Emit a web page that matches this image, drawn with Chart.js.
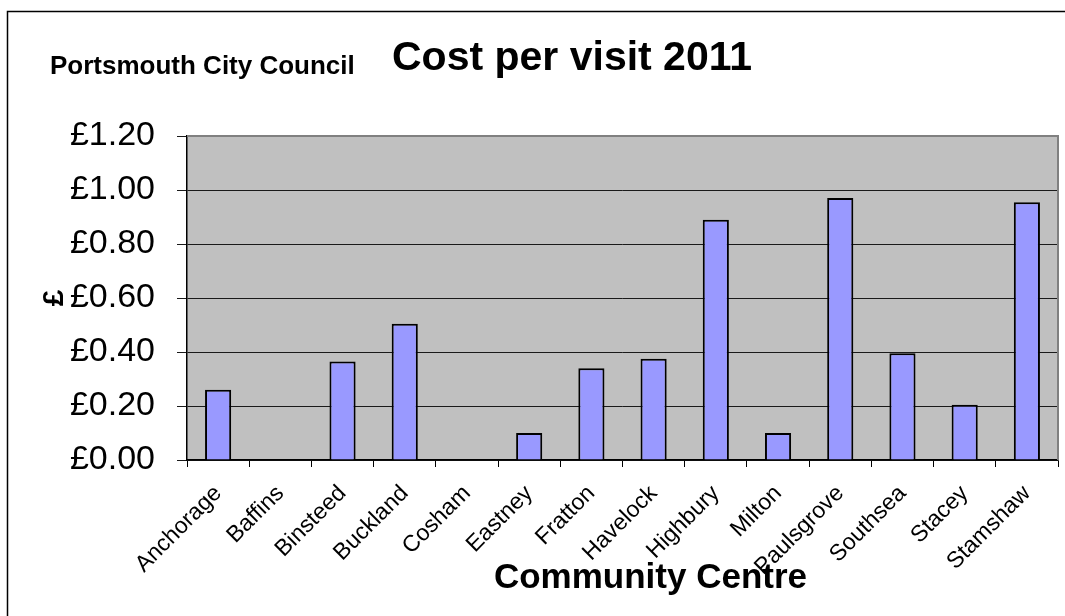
<!DOCTYPE html>
<html>
<head>
<meta charset="utf-8">
<script src="https://cdn.jsdelivr.net/npm/chart.js@4/dist/chart.umd.min.js"></script>
<style>
  html, body { margin: 0; padding: 0; background: #fff; }
  #wrap { position: relative; width: 1065px; height: 616px; }
</style>
</head>
<body>
<div id="wrap"><canvas id="chart" width="1065" height="616"></canvas></div>
<script>
// Community centres and their cost per visit (£), 2011
const centres = ['Anchorage', 'Baffins', 'Binsteed', 'Buckland', 'Cosham', 'Eastney', 'Fratton',
                 'Havelock', 'Highbury', 'Milton', 'Paulsgrove', 'Southsea', 'Stacey', 'Stamshaw'];
const costPerVisit = [0.26, null, 0.365, 0.505, null, 0.10, 0.34,
                      0.375, 0.89, 0.10, 0.97, 0.395, 0.205, 0.955];
const yTickLabels = ['£0.00', '£0.20', '£0.40', '£0.60', '£0.80', '£1.00', '£1.20'];

const FONT = '"Liberation Sans", Arial, Helvetica, sans-serif';

// Background, outer frame, grey plot area and header/axis texts
const decor = {
  id: 'decor',
  beforeDraw(chart) {
    const { ctx, chartArea: a, width, height } = chart;
    ctx.save();
    ctx.fillStyle = '#ffffff';
    ctx.fillRect(0, 0, width, height);
    ctx.strokeStyle = '#000000';
    ctx.lineWidth = 1.5;
    ctx.beginPath();
    ctx.moveTo(7.5, height);
    ctx.lineTo(7.5, 11.5);
    ctx.lineTo(width, 11.5);
    ctx.stroke();
    ctx.fillStyle = '#C0C0C0';
    ctx.fillRect(a.left, a.top, a.right - a.left, a.bottom - a.top);
    ctx.restore();
  },
  beforeDatasetsDraw(chart) {
    const { ctx, chartArea: a } = chart;
    ctx.save();
    ctx.strokeStyle = '#808080';
    ctx.lineWidth = 2;
    ctx.beginPath();
    ctx.moveTo(a.left, a.top);
    ctx.lineTo(a.right, a.top);
    ctx.lineTo(a.right, a.bottom);
    ctx.stroke();
    ctx.restore();
  },
  afterDraw(chart) {
    const { ctx } = chart;
    ctx.save();
    ctx.fillStyle = '#000000';
    ctx.textBaseline = 'alphabetic';
    ctx.textAlign = 'left';
    ctx.font = 'bold 26px ' + FONT;
    ctx.fillText('Portsmouth City Council', 50, 74);
    ctx.font = 'bold 41px ' + FONT;
    ctx.fillText('Cost per visit 2011', 392, 70);
    ctx.font = 'bold 35px ' + FONT;
    ctx.textAlign = 'center';
    const a = chart.chartArea;
    ctx.fillText('Community Centre', (a.left + a.right) / 2 + 28, 588);
    ctx.restore();
  }
};

new Chart(document.getElementById('chart'), {
  type: 'bar',
  data: {
    labels: centres,
    datasets: [{
      label: 'Cost per visit',
      data: costPerVisit,
      backgroundColor: '#9999FF',
      borderColor: '#000000',
      borderWidth: 2,
      borderSkipped: 'bottom',
      barPercentage: 0.42,
      categoryPercentage: 1
    }]
  },
  options: {
    responsive: false,
    animation: false,
    devicePixelRatio: 1,
    layout: { padding: { left: 0, top: 136, right: 7, bottom: 0 } },
    plugins: {
      legend: { display: false },
      tooltip: { enabled: false },
      title: { display: false }
    },
    scales: {
      x: {
        offset: true,
        grid: { display: true, drawOnChartArea: false, drawTicks: true, tickLength: 7, color: '#000000', offset: true },
        border: { display: true, color: '#000000', width: 1.5 },
        ticks: {
          color: '#000000',
          font: { family: FONT, size: 23 },
          minRotation: 45,
          maxRotation: 45,
          autoSkip: false,
          padding: 13
        },
        afterFit(scale) { scale.height = 156; }
      },
      y: {
        min: 0,
        max: 1.2,
        ticks: {
          stepSize: 0.2,
          color: '#000000',
          font: { family: FONT, size: 34 },
          padding: 22,
          callback: (v, i) => yTickLabels[i]
        },
        grid: { color: '#1a1a1a', lineWidth: 1, tickLength: 10, drawTicks: true },
        border: { display: true, color: '#000000', width: 1.5 },
        title: {
          display: true,
          text: '£',
          color: '#000000',
          font: { family: FONT, size: 30, weight: 'bold' },
          padding: { top: 37, bottom: 0 }
        },
        afterFit(scale) { scale.width = 187; }
      }
    }
  },
  plugins: [decor]
});
</script>
</body>
</html>
